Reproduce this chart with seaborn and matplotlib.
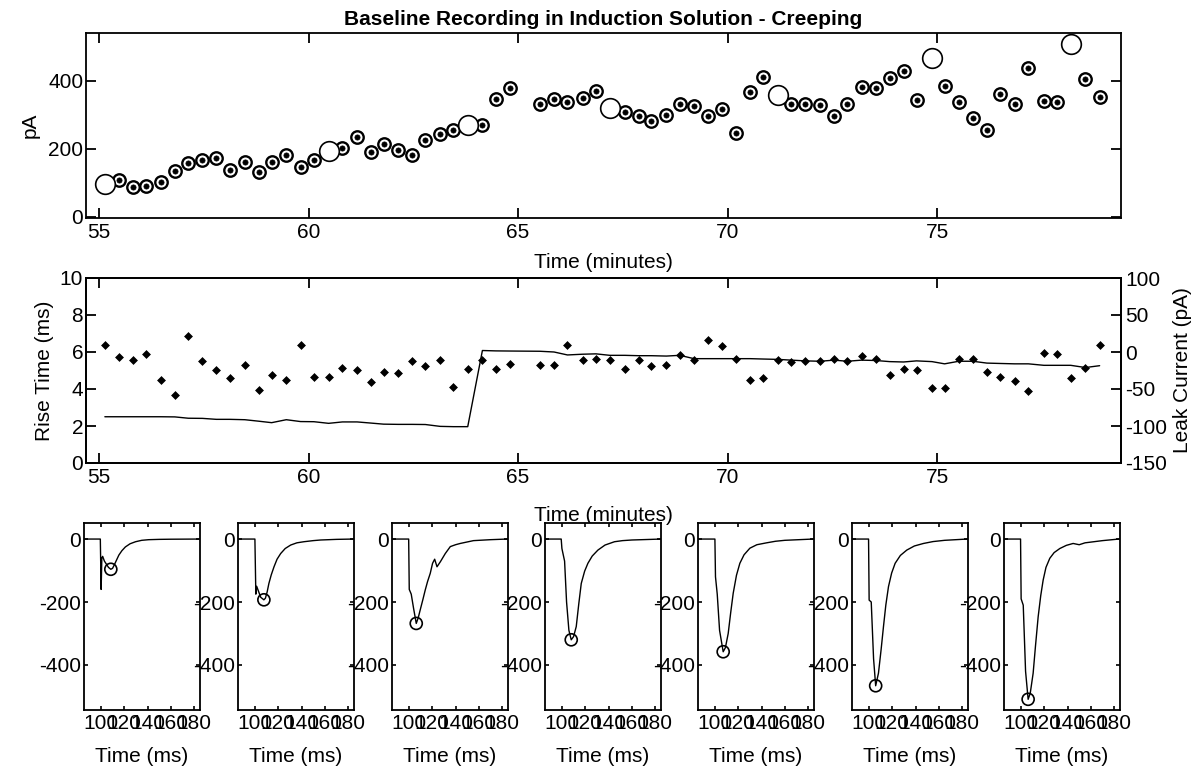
import numpy as np
import pandas as pd
import matplotlib
matplotlib.use("Agg")
import matplotlib.pyplot as plt
import seaborn as sns

# Sweep times (minutes) and per-sweep measurements
times = [55.14, 55.47, 55.82, 56.13, 56.47, 56.81, 57.13, 57.47, 57.80, 58.12,
         58.48, 58.81, 59.12, 59.47, 59.81, 60.13, 60.48, 60.81, 61.16, 61.48,
         61.79, 62.14, 62.47, 62.79, 63.14, 63.46, 63.80, 64.15, 64.47, 64.82,
         65.52, 65.86, 66.18, 66.54, 66.86, 67.19, 67.55, 67.88, 68.18, 68.54,
         68.86, 69.20, 69.54, 69.87, 70.21, 70.54, 70.85, 71.21, 71.52, 71.86,
         72.21, 72.54, 72.86, 73.20, 73.54, 73.87, 74.20, 74.51, 74.88, 75.18,
         75.52, 75.85, 76.19, 76.51, 76.85, 77.18, 77.55, 77.86, 78.19, 78.54, 78.88]

amplitude = [96, 107, 88, 90, 102, 134, 158, 166, 173, 137,
             161, 132, 161, 182, 146, 166, 193, 203, 234, 190,
             215, 195, 180, 224, 242, 254, 268, 268, 346, 379,
             330, 346, 337, 348, 368, 320, 307, 295, 281, 300,
             332, 324, 295, 317, 246, 366, 410, 358, 332, 330,
             327, 295, 332, 382, 379, 407, 427, 344, 466, 385,
             337, 291, 254, 361, 332, 437, 341, 337, 509, 405, 353]

rise_time = [6.36, 5.73, 5.55, 5.91, 4.48, 3.67, 6.84, 5.50, 5.05, 4.57,
             5.32, 3.94, 4.78, 4.51, 6.36, 4.65, 4.65, 5.14, 5.05, 4.39,
             4.92, 4.87, 5.50, 5.23, 5.57, 4.12, 5.10, 5.59, 5.10, 5.37,
             5.32, 5.32, 6.36, 5.55, 5.64, 5.59, 5.10, 5.55, 5.23, 5.32,
             5.86, 5.55, 6.66, 6.30, 5.64, 4.48, 4.57, 5.55, 5.45, 5.50,
             5.50, 5.64, 5.50, 5.77, 5.64, 4.78, 5.10, 5.01, 4.03, 4.03,
             5.64, 5.64, 4.92, 4.65, 4.42, 3.88, 5.95, 5.87, 4.60, 5.14, 6.39]

leak_current = [-87.5, -87.5, -87.5, -87.5, -87.5, -87.7, -89.5, -89.7, -91.0, -91.0,
                -91.5, -93.5, -95.5, -91.5, -94.0, -94.2, -96.4, -94.5, -94.5, -96.0,
                -97.5, -97.8, -97.8, -98.0, -100.5, -100.9, -100.9, 2.0, 1.5, 1.3,
                1.0, 0.0, -4.0, -3.0, -2.5, -4.5, -4.5, -5.0, -5.0, -5.5,
                -4.5, -9.0, -9.0, -9.0, -9.0, -9.0, -9.5, -10.0, -11.0, -12.0,
                -12.5, -11.0, -12.5, -11.0, -11.5, -13.0, -13.5, -12.0, -13.0, -16.0,
                -12.5, -12.5, -15.0, -15.5, -16.0, -16.0, -18.0, -18.0, -18.0, -21.0, -18.5]

# Sweeps shown as example traces
example_idx = [0, 16, 26, 35, 47, 58, 68]
peak_ms = [108.5, 107.7, 106.3, 108.0, 107.1, 105.8, 106.2]

trace_ms = [
    [86, 99.5, 100.2, 100.8, 101.5, 103, 106.5, 108.5, 110, 111.5, 113.5, 115.4, 118, 121, 125,
     129.7, 135, 141, 150, 160, 184],
    [86, 100, 100.8, 101.5, 103, 105, 107.7, 109, 110.5, 112, 114, 116.4, 119, 122.1, 126,
     130.7, 136, 142, 150, 156.4, 170, 184],
    [86, 99.8, 100.3, 102, 104, 106.3, 108, 109.7, 112, 114, 116, 118.3, 120.3, 122.1, 124.1,
     127, 131.2, 135.5, 140, 144, 155.4, 170, 184],
    [86, 99.4, 100, 102.3, 104, 106, 108, 110, 112.3, 114.5, 116.6, 119.5, 122.3, 126,
     130.9, 137, 145.1, 152, 160, 185],
    [86, 100, 100.5, 102, 104, 107.1, 109, 111.4, 113.5, 115.7, 118.5, 121.4, 125, 130,
     136, 144.3, 152, 160, 184],
    [86, 99.7, 100.2, 102, 104, 105.8, 108.2, 110.5, 112.5, 114.5, 116.8, 119.5, 122.5, 127,
     132.5, 139, 146.8, 155, 165, 184],
    [86, 99.7, 100.2, 102, 104, 106.2, 108, 110.5, 112.5, 114.8, 117, 119.1, 121.5, 124.8,
     128.5, 133.4, 139, 144.8, 150, 155, 170, 184],
]
trace_pA = [
    [0, 0, -160, -60, -55, -70, -90, -96, -93, -82, -66, -51, -37, -25, -15,
     -8.5, -4, -2, -1, -0.5, 0],
    [0, 0, -175, -150, -165, -185, -193, -188, -168, -141, -114, -88, -64, -46, -30,
     -19, -12, -8.5, -5, -3, -1, 0],
    [0, 0, -160, -175, -220, -268, -250, -225, -192, -162, -135, -109, -77, -64, -88,
     -72, -46, -24, -18, -14, -5, -2, 0],
    [0, 0, -30, -70, -200, -290, -320, -310, -278, -205, -141, -102, -77, -54,
     -35, -19, -8.5, -5, -3, 0],
    [0, 0, -120, -175, -290, -358, -345, -300, -235, -172, -115, -77, -50, -29,
     -18, -12, -7, -4, 0],
    [0, 0, -194, -200, -380, -466, -426, -350, -278, -210, -151, -108, -77, -52,
     -35, -22, -14, -8, -4, 0],
    [0, 0, -190, -210, -420, -509, -490, -426, -340, -247, -180, -130, -90, -61,
     -43, -30, -20, -14, -18, -12, -5, 0],
]

sns.set_theme(style="ticks")
plt.rcParams["font.family"] = ["Liberation Sans", "DejaVu Sans"]
plt.rcParams.update({
    "axes.linewidth": 1.3,
    "axes.edgecolor": "black",
    "axes.unicode_minus": False,
    "xtick.direction": "in",
    "ytick.direction": "in",
    "xtick.color": "black",
    "ytick.color": "black",
    "text.color": "black",
    "axes.labelcolor": "black",
})

W, H = 1202, 771
fig = plt.figure(figsize=(W / 100, H / 100), dpi=100)


def box(px_left, px_top, px_right, px_bottom):
    return [px_left / W, 1 - px_bottom / H, (px_right - px_left) / W, (px_bottom - px_top) / H]


FS = 15
df = pd.DataFrame({"t": times, "amp": amplitude, "rise": rise_time, "leak": leak_current})
ex = df.iloc[example_idx]

# ---- amplitude over time ----
ax_top = fig.add_axes(box(86, 33, 1121, 218))
sns.scatterplot(data=df, x="t", y="amp", ax=ax_top, marker="o", s=80,
                facecolor="white", edgecolor="black", linewidth=1.7, zorder=3)
sns.scatterplot(data=df, x="t", y="amp", ax=ax_top, marker="o", s=14,
                color="black", edgecolor="black", linewidth=0.5, zorder=4)
sns.scatterplot(data=ex, x="t", y="amp", ax=ax_top, marker="o", s=200,
                facecolor="white", edgecolor="black", linewidth=1.2, zorder=5)
ax_top.set_xlim(54.69, 79.39)
ax_top.set_ylim(-4, 540)
ax_top.set_xticks([55, 60, 65, 70, 75])
ax_top.set_yticks([0, 200, 400])
ax_top.set_xlabel("Time (minutes)", fontsize=FS, labelpad=8)
ax_top.set_ylabel("pA", fontsize=FS, labelpad=6)
ax_top.set_title("Baseline Recording in Induction Solution - Creeping",
                 fontsize=FS, fontweight="bold", pad=6)
ax_top.tick_params(axis="both", labelsize=FS, length=7, width=1.3,
                   top=True, right=True)
ax_top.tick_params(axis="y", pad=2)

# ---- rise time and leak current ----
ax_mid = fig.add_axes(box(86, 278, 1121, 463))
sns.scatterplot(data=df, x="t", y="rise", ax=ax_mid, marker="D", s=16,
                color="black", edgecolor="black", linewidth=0.5, zorder=4)
ax_mid.set_xlim(54.69, 79.39)
ax_mid.set_ylim(0, 10)
ax_mid.set_xticks([55, 60, 65, 70, 75])
ax_mid.set_yticks([0, 2, 4, 6, 8, 10])
ax_mid.set_xlabel("Time (minutes)", fontsize=FS, labelpad=14)
ax_mid.set_ylabel("Rise Time (ms)", fontsize=FS, labelpad=4)
ax_mid.tick_params(axis="both", labelsize=FS, length=7, width=1.3, top=True)
ax_mid.tick_params(axis="y", pad=2)

ax_leak = ax_mid.twinx()
sns.lineplot(data=df, x="t", y="leak", ax=ax_leak, color="black", linewidth=1.0,
             estimator=None, sort=False)
ax_leak.set_xlim(54.69, 79.39)
ax_leak.set_ylim(-150, 100)
ax_leak.set_yticks([-150, -100, -50, 0, 50, 100])
ax_leak.set_ylabel("Leak Current (pA)", fontsize=FS, labelpad=4)
ax_leak.tick_params(axis="y", labelsize=FS, length=7, width=1.3, direction="in",
                    pad=3)
ax_leak.set_xlabel("")

# ---- example traces ----
lefts = [84, 238, 392, 545, 698, 852, 1004]
for k, left in enumerate(lefts):
    ax = fig.add_axes(box(left, 523, left + 116, 710))
    tr = pd.DataFrame({"ms": trace_ms[k], "pA": trace_pA[k]})
    sns.lineplot(data=tr, x="ms", y="pA", ax=ax, color="black", linewidth=1.0,
                 estimator=None, sort=False)
    pk = pd.DataFrame({"ms": [peak_ms[k]], "pA": [-amplitude[example_idx[k]]]})
    sns.scatterplot(data=pk, x="ms", y="pA", ax=ax, marker="o", s=75,
                    facecolor="none", edgecolor="black", linewidth=1.2, zorder=5)
    ax.set_xlim(85.5, 185)
    ax.set_ylim(-543, 51)
    ax.set_xticks([100, 120, 140, 160, 180])
    ax.set_yticks([-400, -200, 0])
    ax.set_xlabel("Time (ms)", fontsize=FS, labelpad=10)
    ax.set_ylabel("")
    ax.tick_params(axis="both", labelsize=FS, length=3, width=1.2,
                   top=True, right=True, pad=3)
    ax.tick_params(axis="y", pad=2)

fig.savefig("out.png", dpi=100)
